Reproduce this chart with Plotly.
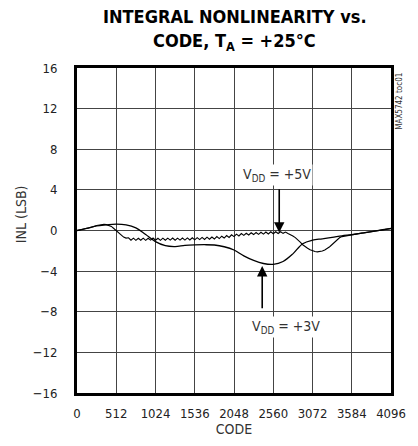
import plotly.graph_objects as go

# INL data (code vs LSB)
codes_5v = list(range(0, 4097, 32))
inl_5v = [
    0.0, 0.05, 0.1, 0.15, 0.2, 0.25, 0.33, 0.4, 0.5, 0.55, 0.62, 0.62, 0.58, 0.5, 0.4, 0.2,
    0.0, -0.2, -0.45, -0.65, -0.75, -0.72, -0.95, -0.75, -0.97, -0.76, -0.96, -0.75, -0.97, -0.76, -0.95, -0.74,
    -0.96, -0.76, -0.97, -0.75, -0.96, -0.75, -0.95, -0.74, -0.96, -0.75, -0.95, -0.74, -0.94, -0.73, -0.93, -0.72,
    -0.92, -0.7, -0.9, -0.68, -0.88, -0.66, -0.86, -0.64, -0.84, -0.6, -0.8, -0.56, -0.74, -0.5, -0.68, -0.42,
    -0.6, -0.36, -0.54, -0.3, -0.48, -0.27, -0.44, -0.22, -0.4, -0.2, -0.38, -0.17, -0.36, -0.15, -0.34, -0.13,
    -0.32, -0.12, -0.3, -0.12, -0.28, -0.15, -0.3, -0.4, -0.55, -0.7, -0.9, -1.15, -1.4, -1.6, -1.75, -1.9,
    -2.0, -2.07, -2.1, -2.08, -2.02, -1.92, -1.78, -1.6, -1.38, -1.15, -0.92, -0.72, -0.6, -0.55, -0.5, -0.46,
    -0.42, -0.38, -0.33, -0.29, -0.26, -0.23, -0.2, -0.17, -0.13, -0.1, -0.07, -0.03, 0.02, 0.07, 0.12, 0.16,
    0.2,
]

codes_3v = [0, 128, 256, 384, 512, 640, 768, 896, 1024, 1152, 1280, 1408, 1536, 1664, 1792, 1920,
            2048, 2176, 2304, 2432, 2560, 2688, 2816, 2944, 3072, 3200, 3328, 3456, 3584, 3712, 3840,
            3968, 4096]
inl_3v = [0.0, 0.2, 0.45, 0.55, 0.62, 0.55, 0.25, -0.4, -1.1, -1.5, -1.58, -1.47, -1.42, -1.4, -1.43, -1.6,
          -1.92, -2.5, -2.95, -3.25, -3.33, -3.05, -2.3, -1.3, -0.95, -0.82, -0.68, -0.52, -0.4, -0.25, -0.1,
          0.05, 0.2]

x_ticks = [0, 512, 1024, 1536, 2048, 2560, 3072, 3584, 4096]
y_ticks = [-16, -12, -8, -4, 0, 4, 8, 12, 16]

FONT = "DejaVu Sans Condensed, Liberation Sans Narrow, sans-serif"
W, H = 418, 446
L, R, T, B = 77, 15, 68, 53


def px_to_paper(px, py):
    return (px - L) / (W - L - R), (H - B - py) / (H - T - B)


fig = go.Figure()
fig.add_scatter(x=codes_5v, y=inl_5v, mode="lines", line=dict(color="black", width=1.1), name="VDD=+5V")
fig.add_scatter(x=codes_3v, y=inl_3v, mode="lines", line=dict(color="black", width=1.3, shape="spline"),
                name="VDD=+3V")

fig.add_annotation(x=2638, y=-0.2, ax=2638, ay=4.2, xref="x", yref="y", axref="x", ayref="y",
                   showarrow=True, arrowhead=2, arrowsize=1.3, arrowwidth=1.6, arrowcolor="black", text="")
fig.add_annotation(x=2613, y=5.5, text="V<sub>DD</sub> = +5V", showarrow=False,
                   font=dict(size=14, color="#333"), bgcolor="white")
fig.add_annotation(x=2416, y=-3.5, ax=2416, ay=-7.8, xref="x", yref="y", axref="x", ayref="y",
                   showarrow=True, arrowhead=2, arrowsize=1.3, arrowwidth=1.6, arrowcolor="black", text="")
fig.add_annotation(x=2726, y=-9.5, text="V<sub>DD</sub> = +3V", showarrow=False,
                   font=dict(size=14, color="#333"), bgcolor="white")

# title, two lines placed by pixel position
for txt, py in [("<b>INTEGRAL NONLINEARITY vs.</b>", 16), ("<b>CODE, T<sub>A</sub> = +25°C</b>", 42)]:
    ax_, ay_ = px_to_paper(241, py)
    fig.add_annotation(x=ax_, y=ay_, xref="paper", yref="paper", text=txt, showarrow=False,
                       xanchor="center", yanchor="middle", font=dict(size=18, color="black"))

ax_, ay_ = px_to_paper(19, 214)
fig.add_annotation(x=ax_, y=ay_, xref="paper", yref="paper", text="INL (LSB)", textangle=-90,
                   showarrow=False, xanchor="center", yanchor="middle", font=dict(size=14, color="#333"))
ax_, ay_ = px_to_paper(411, 101)
fig.add_annotation(x=ax_, y=ay_, xref="paper", yref="paper", text="MAX5742 toc01", textangle=-90,
                   showarrow=False, xanchor="center", yanchor="middle", font=dict(size=8, color="#333"))

fig.update_layout(
    width=W, height=H,
    margin=dict(l=L, r=R, t=T, b=B),
    paper_bgcolor="white", plot_bgcolor="white",
    showlegend=False,
    font=dict(family=FONT, size=13, color="#222"),
    xaxis=dict(range=[0, 4096], tickvals=x_ticks, ticktext=[str(v) for v in x_ticks],
               showgrid=True, gridcolor="#444", gridwidth=1, zeroline=False,
               showline=True, mirror=True, linecolor="black", linewidth=3, ticks="",
               title=dict(text="CODE", standoff=0, font=dict(size=14, color="#333")),
               ticklabelstandoff=6),
    yaxis=dict(range=[-16, 16], tickvals=y_ticks, showgrid=True, gridcolor="#444", gridwidth=1,
               zeroline=False, showline=True, mirror=True, linecolor="black", linewidth=3, ticks="",
               ticklabelstandoff=14),
)

fig.write_html("out.html", config={"displayModeBar": False},
               post_script="document.body.style.margin='0';")
